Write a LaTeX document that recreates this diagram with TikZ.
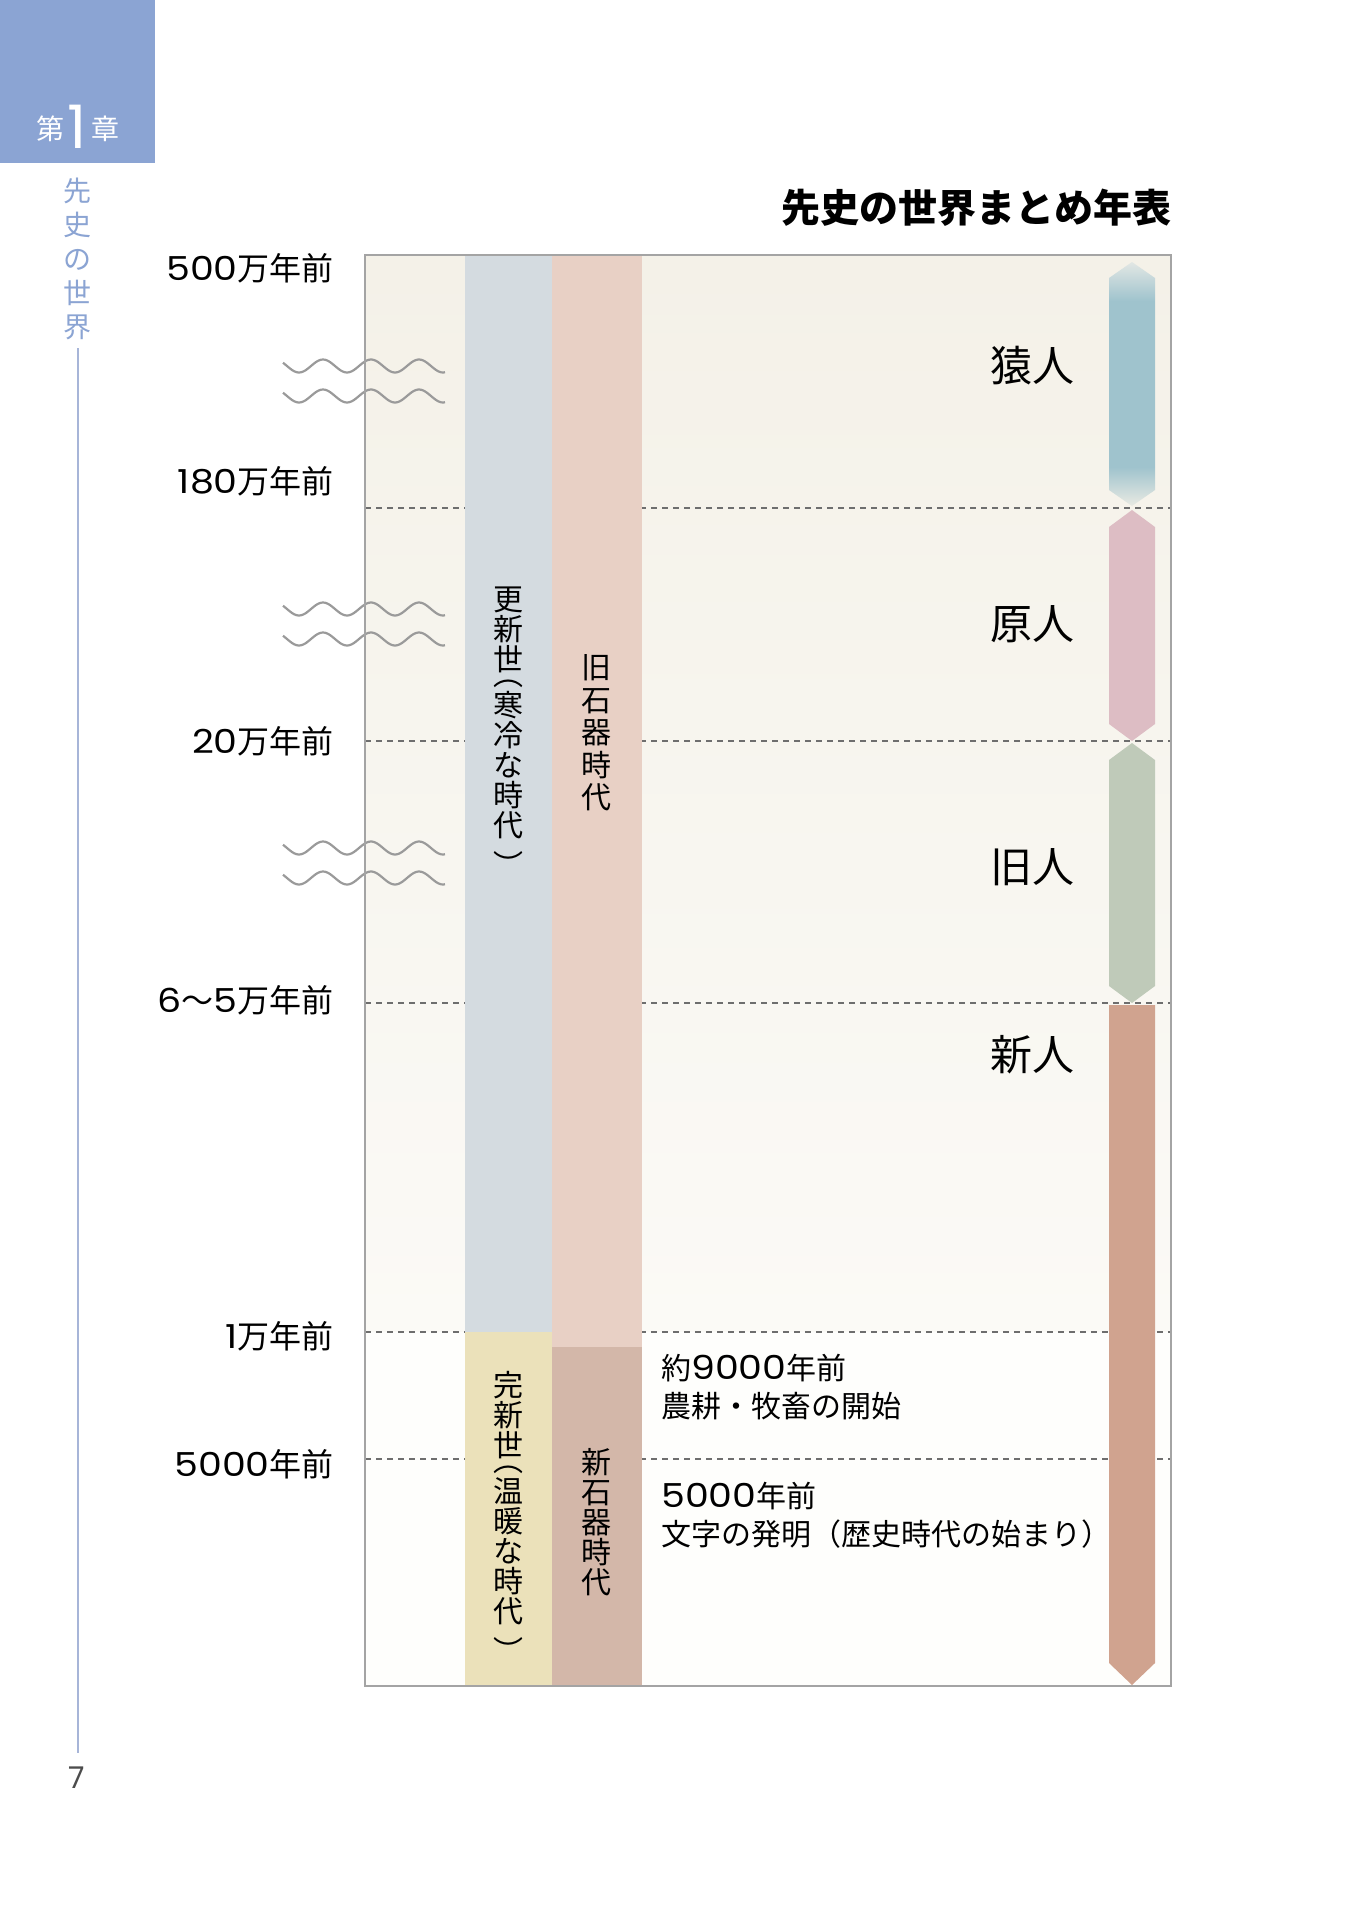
\documentclass[tikz,border=0pt]{standalone}
\usepackage{fontspec}
\setmainfont{Noto Sans CJK JP}
\newfontfamily\dg[FakeStretch=1.15]{Poppins}
\newfontfamily\dgplain{Poppins}
\definecolor{hdr}{HTML}{8BA4D3}
\definecolor{hdrline}{HTML}{A7B5D8}
\definecolor{framec}{HTML}{A4A4A4}
\definecolor{dashc}{HTML}{6E6E6E}
\definecolor{bgtop}{HTML}{F4F1E8}
\definecolor{bgmid}{HTML}{FBFAF6}
\definecolor{bgbot}{HTML}{FEFEFC}
\definecolor{colblue}{HTML}{D4DBE0}
\definecolor{colsalmon}{HTML}{E8D0C5}
\definecolor{colyellow}{HTML}{EBE1BA}
\definecolor{colneo}{HTML}{D3B7A9}
\definecolor{saru}{HTML}{9FC3CD}
\definecolor{sarufade}{HTML}{E9EAE3}
\definecolor{sarufadetop}{HTML}{E2E7E4}
\definecolor{genc}{HTML}{DDBDC4}
\definecolor{kyuc}{HTML}{BFCAB9}
\definecolor{shinc}{HTML}{D0A38F}
\definecolor{wavec}{HTML}{9A9A9A}
\pgfdeclareverticalshading{sarushade}{100bp}{color(0bp)=(sarufade); color(25bp)=(sarufade); color(33bp)=(saru); color(67bp)=(saru); color(75bp)=(sarufadetop); color(100bp)=(sarufadetop)}
\newcommand\dd[1]{{\dg\fontsize{33}{33}\selectfont #1}}
\tikzset{
  lbl/.style={anchor=east, font=\fontsize{32}{34}\selectfont, inner sep=0pt},
  dashline/.style={dashc, line width=1.4pt, dash pattern=on 6pt off 5pt},
  vtext/.style={align=center, inner sep=0pt},
  humanlbl/.style={font=\fontsize{42}{44}\selectfont, inner sep=0pt},
  evtext/.style={anchor=west, align=left, inner sep=0pt, font=\fontsize{30}{37.5}\selectfont},
  wavy/.style={wavec, line width=2.2pt},
}
\begin{document}
\begin{tikzpicture}[x=1pt,y=-1pt]
\useasboundingbox (0,0) rectangle (1353,1920);
\fill[white] (0,0) rectangle (1353,1920);
% header
\fill[hdr] (0,0) rectangle (155,163);
\node[white, font=\fontsize{28}{30}\selectfont, inner sep=0pt] (dai) at (50,129) {第};
\node[white, font=\dgplain\fontsize{60}{62}\selectfont, inner sep=0pt] (one) at (77,127) {1};
\node[white, font=\fontsize{28}{30}\selectfont, inner sep=0pt] (sho) at (105,129) {章};
\node[hdr, vtext, font=\fontsize{28}{34}\selectfont] (side) at (77,259) {先\\史\\の\\世\\界};
\coordinate (lt) at (78,348);
\coordinate (lb) at (78,1753);
\draw[hdrline, line width=1.6pt] (lt) -- (lb);
\node[color=black!70, font=\dgplain\fontsize{30}{32}\selectfont, inner sep=0pt] (pg) at (77,1778) {7};
% title
\node[anchor=east, font=\fontsize{39}{41}\selectfont\bfseries, inner sep=0pt] (title) at (1172,208) {先史の世界まとめ年表};
% background of frame
\shade[top color=bgtop, bottom color=bgmid] (365,255) rectangle (1171,1332);
\fill[bgbot] (365,1332) rectangle (1171,1686);
% dashed lines
\foreach \yy in {508,741,1003,1332,1459} {
  \draw[dashline] (365,\yy) -- (1171,\yy);
}
% columns
\fill[colblue] (465,255) rectangle (552,1332);
\fill[colsalmon] (552,255) rectangle (642,1347);
\fill[colyellow] (465,1332) rectangle (552,1686);
\fill[colneo] (552,1347) rectangle (642,1686);
% vertical texts
\node[vtext, anchor=north, font=\fontsize{30}{30}\selectfont] (kou) at (508,587) {更\\新\\世\\[-15pt]︵\\[1pt]寒\\冷\\な\\時\\代\\[10pt]︶};
\node[vtext, font=\fontsize{30}{32.5}\selectfont] (kyuseki) at (596,733) {旧\\石\\器\\時\\代};
\node[vtext, anchor=north, font=\fontsize{30}{30}\selectfont] (kan) at (508,1371) {完\\新\\世\\[-15pt]︵\\[1pt]温\\暖\\な\\時\\代\\[10pt]︶};
\node[vtext, font=\fontsize{30}{30}\selectfont] (shinseki) at (596,1522) {新\\石\\器\\時\\代};
% waves
\foreach \yy in {366,396,609,639,848,878} {
  \draw[wavy] plot[domain=283:445, samples=90, smooth] (\x, {\yy - 6.5*cos((\x-275)*7.5)});
}
% human bars
\shade[shading=sarushade] (1132,262) -- (1155,278) -- (1155,490) -- (1132,506) -- (1109,490) -- (1109,278) -- cycle;
\fill[genc] (1132,510) -- (1155,527) -- (1155,724) -- (1132,741) -- (1109,724) -- (1109,527) -- cycle;
\fill[kyuc] (1132,743) -- (1155,760) -- (1155,986) -- (1132,1003) -- (1109,986) -- (1109,760) -- cycle;
\fill[shinc] (1109,1005) -- (1155,1005) -- (1155,1663) -- (1132,1685) -- (1109,1663) -- cycle;
% frame
\draw[framec, line width=2pt] (365,255) rectangle (1171,1686);
% left labels
\node[lbl] (l500) at (334,268) {\dd{500}万年前};
\node[lbl] (l180) at (334,481) {\dd{180}万年前};
\node[lbl] (l20) at (334,741) {\dd{20}万年前};
\node[lbl] (l65) at (334,1000) {\dd{6}〜\dd{5}万年前};
\node[lbl] (l1) at (334,1336) {\dd{1}万年前};
\node[lbl] (l5000) at (334,1464) {\dd{5000}年前};
% human labels
\node[humanlbl] (enjin) at (1032,366) {猿人};
\node[humanlbl] (genjin) at (1032,624) {原人};
\node[humanlbl] (kyujin) at (1032,867) {旧人};
\node[humanlbl] (shinjin) at (1032,1055) {新人};
% events
\node[evtext] (ev1) at (661,1387) {約\dd{9000}年前\\農耕・牧畜の開始};
\node[evtext] (ev2) at (661,1515) {\dd{5000}年前\\文字の発明（歴史時代の始まり）};
\end{tikzpicture}
\end{document}
